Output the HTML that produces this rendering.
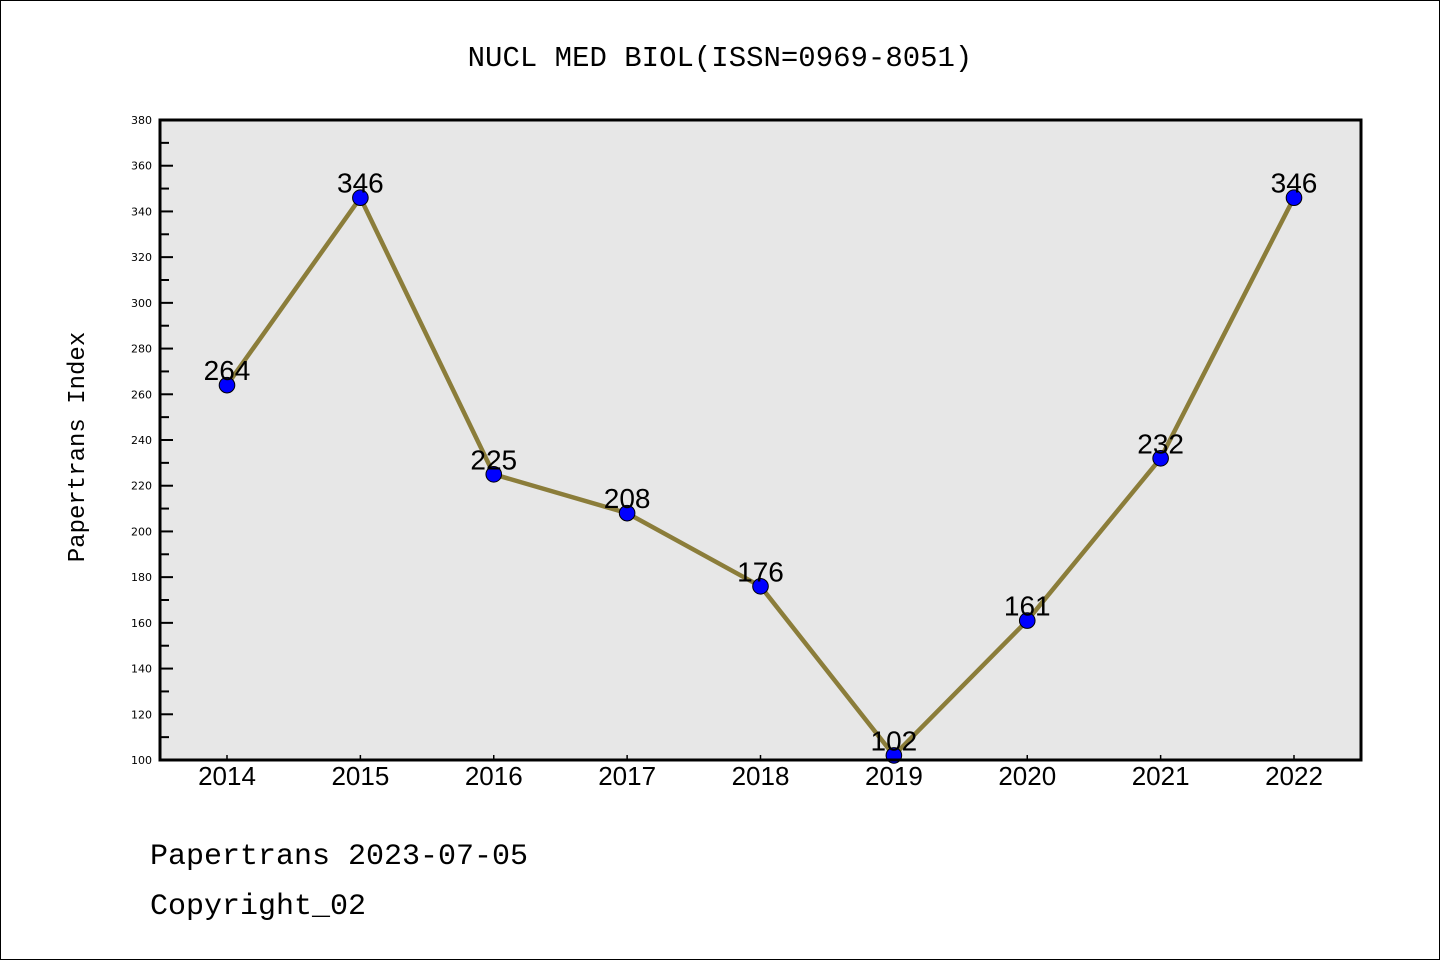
<!DOCTYPE html>
<html><head><meta charset="utf-8"><style>
body{margin:0;background:#fff}
svg{display:block}
</style></head><body>
<svg width="1440" height="960" xmlns="http://www.w3.org/2000/svg">
<rect x="0.5" y="0.5" width="1439" height="959" fill="#fff" stroke="#000"/>
<text x="720" y="66" text-anchor="middle" font-family="'Liberation Mono','WenQuanYi Zen Hei',monospace" font-size="29">NUCL MED BIOL(ISSN=0969-8051)</text>
<rect x="160" y="120" width="1201" height="640" fill="#e7e7e7"/>
<g id="ticks"></g>
<g id="series"></g>
<rect x="160" y="120" width="1201" height="640" fill="none" stroke="#000" stroke-width="3"/>
<text transform="translate(84,447) rotate(-90)" text-anchor="middle" font-family="'Liberation Mono','WenQuanYi Zen Hei',monospace" font-size="24">Papertrans Index</text>
<text x="150" y="864" font-family="'Liberation Mono','WenQuanYi Zen Hei',monospace" font-size="30">Papertrans 2023-07-05</text>
<text x="150" y="914" font-family="'Liberation Mono','WenQuanYi Zen Hei',monospace" font-size="30">Copyright_02</text>
</svg>
<script>
const years = ['2014','2015','2016','2017','2018','2019','2020','2021','2022'];
const values = [264,346,225,208,176,102,161,232,346];
const yTicks = [100,120,140,160,180,200,220,240,260,280,300,320,340,360,380];
const NS='http://www.w3.org/2000/svg';
const x0=227,x1=1294,yMin=100,yMax=380,plotTop=120,plotBot=760;
const xs=i=>x0+(x1-x0)*i/(years.length-1);
const ys=v=>plotBot-(v-yMin)/(yMax-yMin)*(plotBot-plotTop);
function mk(t,a,p){const e=document.createElementNS(NS,t);for(const k in a)e.setAttribute(k,a[k]);p.appendChild(e);return e;}
const tg=document.getElementById('ticks'), sg=document.getElementById('series');
yTicks.forEach((v,i)=>{
  const y=ys(v);
  const l=mk('line',{x1:160,x2:173,y1:y,y2:y,stroke:'#000','stroke-width':2},tg);
  
  
  const t=mk('text',{x:152,y:y+4,'text-anchor':'end','font-family':"'DejaVu Sans',sans-serif",'font-size':11},tg);
  t.textContent=v;
  
  
  if(i<yTicks.length-1){
    const ym=ys(v+10);
    const m=mk('line',{x1:160,x2:169,y1:ym,y2:ym,stroke:'#000','stroke-width':2},tg);
    
    
  }
});
years.forEach((yr,i)=>{
  const x=xs(i);
  const l=mk('line',{x1:x,x2:x,y1:760,y2:755,stroke:'#000','stroke-width':1.5},tg);
  
  
  const t=mk('text',{x:x,y:785,'text-anchor':'middle','font-family':"'Liberation Sans',sans-serif",'font-size':26},tg);
  t.textContent=yr;
  
  
});
const pl=mk('polyline',{points:values.map((v,i)=>xs(i)+','+ys(v)).join(' '),fill:'none',stroke:'#8b7d3a','stroke-width':4.5,'stroke-linejoin':'round'},sg);


values.forEach((v,i)=>{
  const c=mk('circle',{cx:xs(i),cy:ys(v),r:7.8,fill:'#0000ff',stroke:'#000','stroke-width':1},sg);
  
  
  const t=mk('text',{x:xs(i),y:ys(v)-5,'text-anchor':'middle','font-family':"'Liberation Sans',sans-serif",'font-size':28},sg);
  t.textContent=v;
  
  
});
</script>
</body></html>
